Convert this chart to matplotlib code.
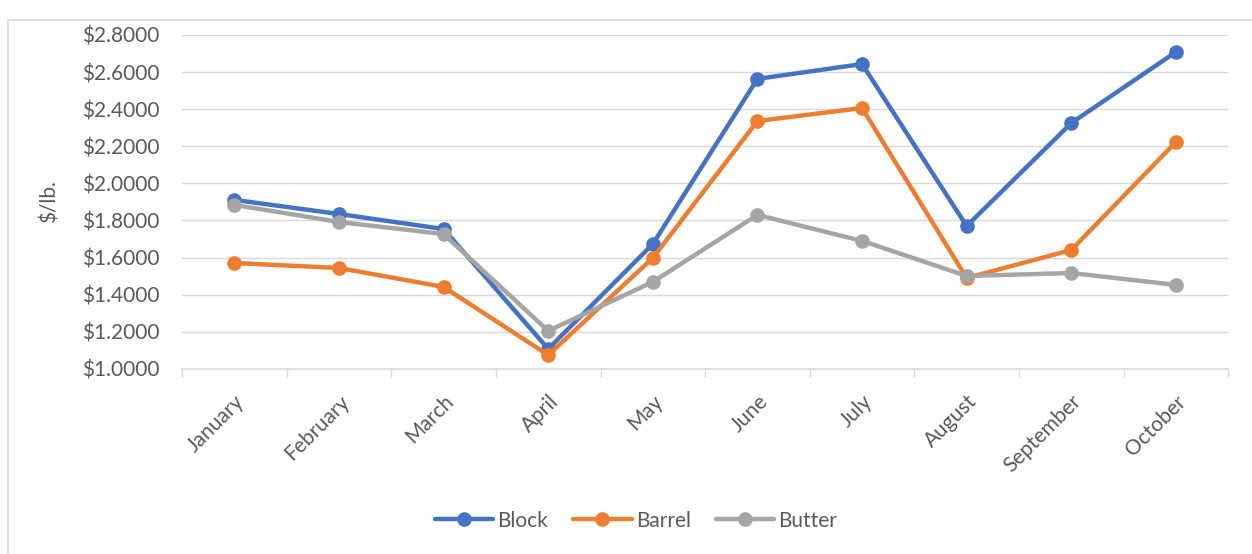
import numpy as np
import matplotlib.pyplot as plt
from matplotlib.patches import Rectangle
from matplotlib.ticker import FuncFormatter

months = ["January", "February", "March", "April", "May",
          "June", "July", "August", "September", "October"]
block = [1.911, 1.835, 1.754, 1.108, 1.673, 2.563, 2.643, 1.770, 2.325, 2.708]
barrel = [1.571, 1.544, 1.442, 1.075, 1.598, 2.336, 2.406, 1.490, 1.641, 2.223]
butter = [1.884, 1.792, 1.727, 1.205, 1.469, 1.830, 1.690, 1.501, 1.517, 1.453]

plt.rcParams['font.family'] = ['Lato', 'DejaVu Sans']
text_col = '#595959'
fs = 15

fig = plt.figure(figsize=(12.52, 5.54), dpi=100)
ax = fig.add_axes([0.1454, 0.334, 0.8356, 0.603])

# chart border
fig.patches.append(Rectangle((8 / 1252, -0.01), 1.1, 1 - 20 / 554 + 0.01,
                             transform=fig.transFigure, fill=False,
                             edgecolor='#d9d9d9', linewidth=1.2))

x = np.arange(len(months))
series = [("Block", block, '#4472C4'),
          ("Barrel", barrel, '#ED7D31'),
          ("Butter", butter, '#A5A5A5')]
for name, vals, col in series:
    ax.plot(x, vals, color=col, linewidth=3.2, marker='o', markersize=9.5,
            solid_capstyle='round', label=name, zorder=3)

ax.set_xlim(-0.5, len(months) - 0.5)
ax.set_ylim(1.0, 2.8)
ax.set_yticks(np.arange(1.0, 2.81, 0.2))
ax.yaxis.set_major_formatter(FuncFormatter(lambda v, p: f"${v:.4f}"))
ax.grid(axis='y', color='#d9d9d9', linewidth=1)
ax.set_axisbelow(True)

ax.set_xticks(x)
ax.set_xticklabels(months, rotation=45, ha='right', rotation_mode='anchor')
ax.set_xticks(np.arange(-0.5, len(months), 1), minor=True)
ax.tick_params(axis='x', which='major', length=0, pad=16, labelsize=fs, labelcolor=text_col)
ax.tick_params(axis='x', which='minor', length=6, color='#d9d9d9', width=1)
ax.tick_params(axis='y', length=0, pad=16, labelsize=fs, labelcolor=text_col)

for s in ['top', 'right', 'left']:
    ax.spines[s].set_visible(False)
ax.spines['bottom'].set_color('#d9d9d9')
ax.spines['bottom'].set_linewidth(1.2)

ax.set_ylabel("$/lb.", fontsize=fs, color=text_col)
ax.yaxis.set_label_coords(-0.117, 0.5)

fig.legend(loc='center', bbox_to_anchor=(0.508, 0.06), ncol=3, frameon=False,
           fontsize=fs, labelcolor=text_col, handlelength=2.8, columnspacing=1.2,
           handletextpad=0.2)

fig.savefig("out.png", dpi=100)
